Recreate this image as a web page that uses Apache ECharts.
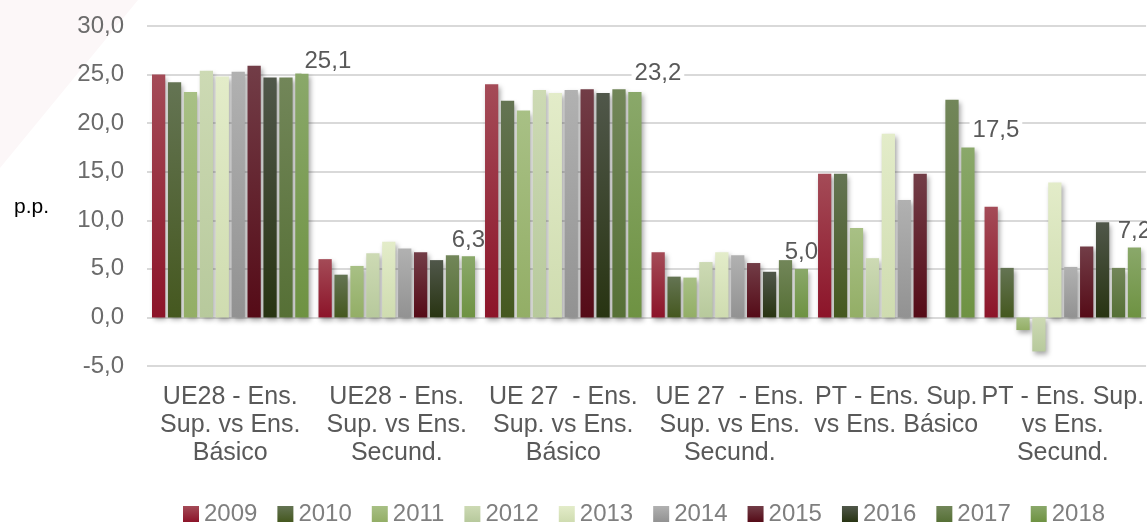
<!doctype html>
<html>

<head>
    <meta charset="utf-8">
    <title>Diferença p.p.</title>
    <script src="https://cdn.jsdelivr.net/npm/echarts@6/dist/echarts.min.js"></script>
    <style>
        body { margin: 0; background: #fff; }
    </style>
</head>

<body>
    <div id="container" style="width:1147px;height:523px;"></div>

    <script type="text/javascript">
        // categorias do eixo x
        var categories = [
            'UE28 - Ens.\nSup. vs Ens.\nBásico',
            'UE28 - Ens.\nSup. vs Ens.\nSecund.',
            'UE 27  - Ens.\nSup. vs Ens.\nBásico',
            'UE 27  - Ens.\nSup. vs Ens.\nSecund.',
            'PT - Ens. Sup.\nvs Ens. Básico',
            'PT - Ens. Sup.\nvs Ens.\nSecund.'
        ];
        var years = ['2009', '2010', '2011', '2012', '2013', '2014', '2015', '2016', '2017', '2018'];

        // valores por ano (p.p.)
        var v2009 = [25.0, 6.0, 24.0, 6.7, 14.8, 11.4];
        var v2010 = [24.2, 4.4, 22.3, 4.2, 14.8, 5.1];
        var v2011 = [23.2, 5.3, 21.3, 4.1, 9.2, -1.3];
        var v2012 = [25.4, 6.6, 23.4, 5.7, 6.1, -3.5];
        var v2013 = [24.8, 7.8, 23.1, 6.7, 18.9, 13.9];
        var v2014 = [25.3, 7.1, 23.4, 6.4, 12.1, 5.2];
        var v2015 = [25.9, 6.7, 23.5, 5.6, 14.8, 7.3];
        var v2016 = [24.7, 5.9, 23.1, 4.7, null, 9.8];
        var v2017 = [24.7, 6.4, 23.5, 5.9, 22.4, 5.1];
        var v2018 = [25.1, 6.3, 23.2, 5.0, 17.5, 7.2];
        var values = [v2009, v2010, v2011, v2012, v2013, v2014, v2015, v2016, v2017, v2018];

        // cores (topo -> base)
        var colors = [
            ['#a44b57', '#8c1429'],
            ['#647453', '#45581f'],
            ['#a8c085', '#93ae66'],
            ['#cddab4', '#b7c99c'],
            ['#e3ecc9', '#cfdcb0'],
            ['#b1b1b1', '#929292'],
            ['#723d47', '#550b17'],
            ['#50574a', '#283412'],
            ['#728659', '#567036'],
            ['#8aa86a', '#6e9242']
        ];

        // rótulos deslocados à mão (com fundo branco, como no Excel)
        var labelOffsets = [[26, 4], [0, 0], [23, -3], [0, 0], [28, -1], [0, 0]];
        var labelFilled = [true, false, true, false, true, false];

        function fmt(v) {
            return Number(v).toFixed(1).replace('.', ',');
        }

        var font = '"Liberation Sans", Arial, sans-serif';

        var series = years.map(function(y, i) {
            var s = {
                name: y,
                type: 'bar',
                barGap: '20%',
                barCategoryGap: '6%',
                itemStyle: {
                    color: {
                        type: 'linear', x: 0, y: 0, x2: 0, y2: 1,
                        colorStops: [{ offset: 0, color: colors[i][0] }, { offset: 1, color: colors[i][1] }]
                    },
                    shadowColor: 'rgba(0,0,0,0.35)',
                    shadowBlur: 5,
                    shadowOffsetX: 2,
                    shadowOffsetY: 3
                },
                data: values[i]
            };
            if (i === years.length - 1) {
                s.data = values[i].map(function(v, k) {
                    return {
                        value: v,
                        label: {
                            offset: labelOffsets[k],
                            backgroundColor: labelFilled[k] ? '#fff' : 'transparent'
                        }
                    };
                });
                s.label = {
                    show: true,
                    position: 'top',
                    distance: 4,
                    color: '#595959',
                    fontSize: 24,
                    fontFamily: font,
                    padding: [0, 3],
                    formatter: function(p) { return fmt(p.value); }
                };
                s.z = 3;
            }
            return s;
        });

        var option = {
            animation: false,
            textStyle: { fontFamily: font },
            graphic: [{
                type: 'polygon',
                silent: true,
                z: -10,
                shape: { points: [[0, 0], [138, 0], [0, 168]] },
                style: { fill: '#fcf7f8' }
            }],
            title: {
                text: 'p.p.',
                left: 9,
                top: 192,
                textStyle: { fontSize: 21, fontWeight: 'normal', color: '#000', fontFamily: font }
            },
            legend: {
                left: 178,
                top: 497,
                itemWidth: 16,
                itemHeight: 16,
                itemGap: 20,
                icon: 'rect',
                textStyle: { fontSize: 24, color: '#7f7f7f', fontFamily: font },
                data: years
            },
            grid: {
                left: 147,
                right: 0,
                top: 26,
                bottom: 157,
                containLabel: false
            },
            xAxis: {
                type: 'category',
                data: categories,
                axisLine: { show: false, onZero: false },
                axisTick: { show: false },
                axisLabel: {
                    color: '#595959',
                    fontSize: 25,
                    lineHeight: 28,
                    margin: 17,
                    interval: 0,
                    fontFamily: font
                }
            },
            yAxis: {
                type: 'value',
                min: -5,
                max: 30,
                interval: 5,
                axisLine: { show: false },
                axisTick: { show: false },
                axisLabel: {
                    color: '#6b6b6b',
                    fontSize: 24,
                    margin: 23,
                    fontFamily: font,
                    formatter: function(v) { return fmt(v); }
                },
                splitLine: { lineStyle: { color: '#d9d9d9', width: 2 } }
            },
            series: series
        };

        var myChart = echarts.init(document.getElementById('container'));
        myChart.setOption(option);
    </script>
</body>

</html>
